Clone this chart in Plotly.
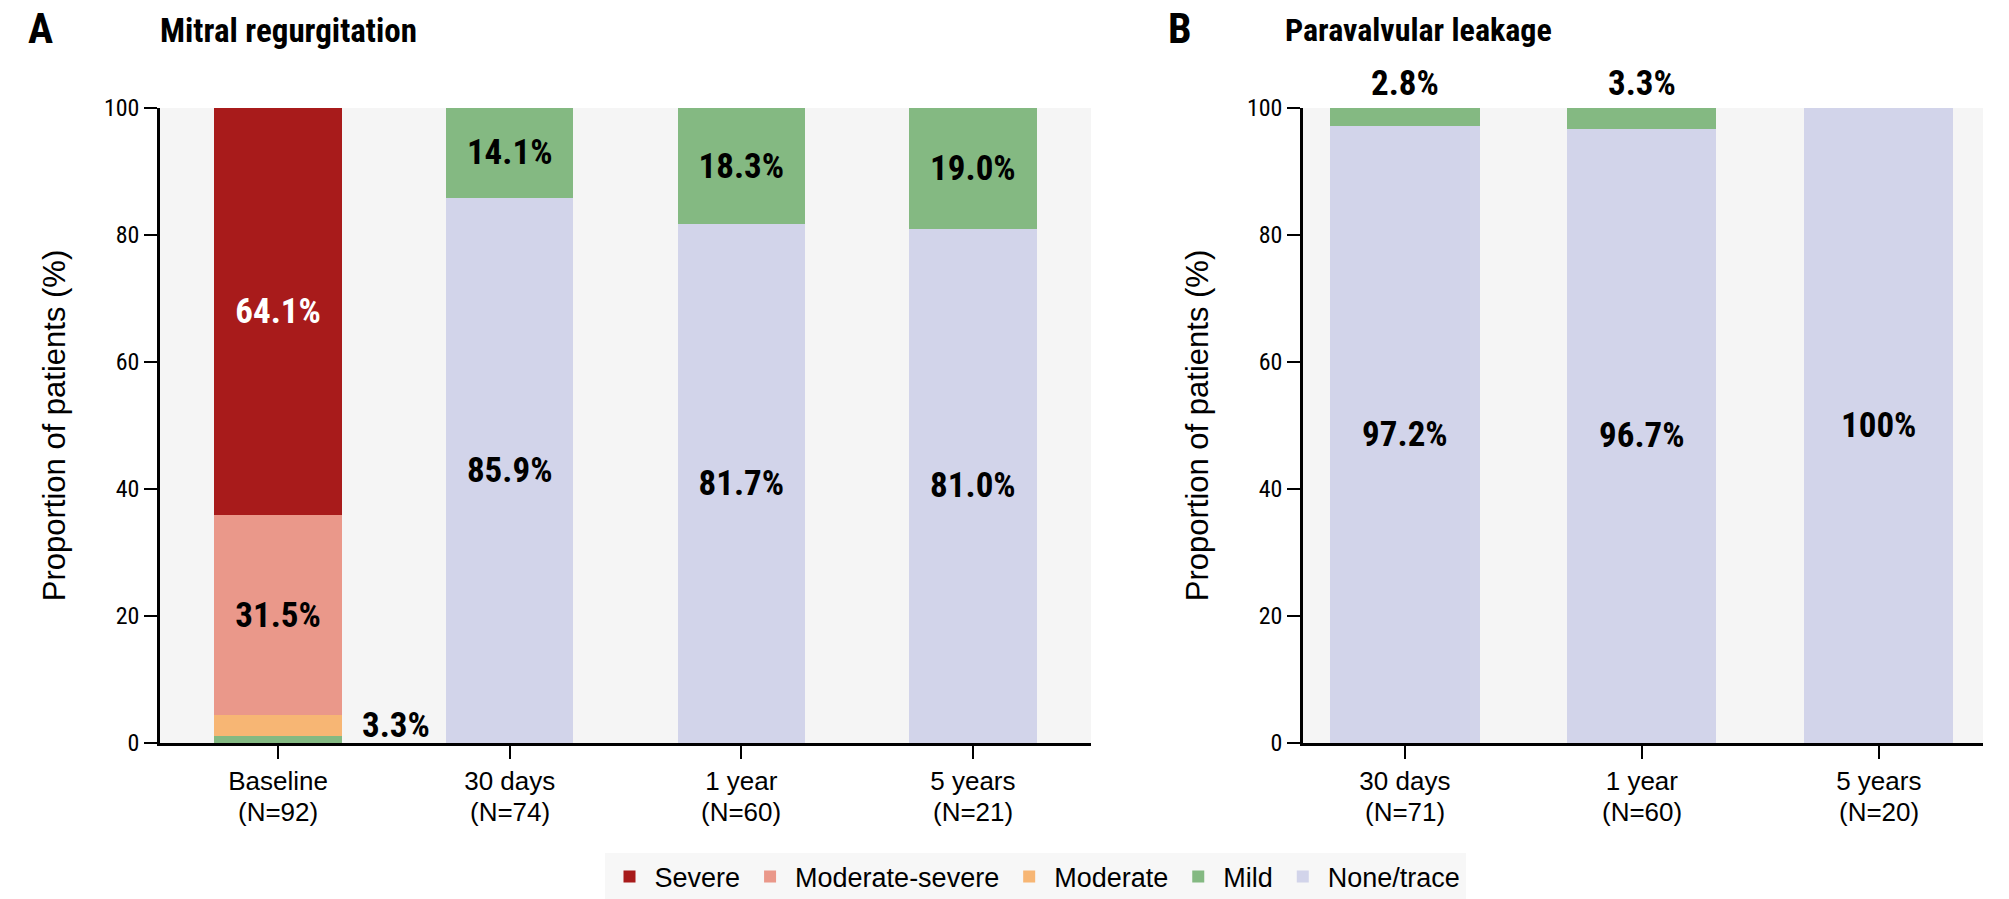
import plotly.graph_objects as go

# ---------------- data ----------------
timepoints_mr = ["Baseline", "30 days", "1 year", "5 years"]
n_mr = [92, 74, 60, 21]
mr_none = [0, 85.9, 81.7, 81.0]
mr_mild = [1.1, 14.1, 18.3, 19.0]
mr_moderate = [3.3, 0, 0, 0]
mr_modsev = [31.5, 0, 0, 0]
mr_severe = [64.1, 0, 0, 0]

timepoints_pvl = ["30 days", "1 year", "5 years"]
n_pvl = [71, 60, 20]
pvl_none = [97.2, 96.7, 100]
pvl_mild = [2.8, 3.3, 0]

grades = ["None/trace", "Mild", "Moderate", "Moderate-severe", "Severe"]
colors = {
    "Severe": "#a81b1b",
    "Moderate-severe": "#ea988a",
    "Moderate": "#f7b674",
    "Mild": "#84b982",
    "None/trace": "#d2d4ea",
}
label_colors = {"Severe": "white"}

W, H = 2009, 899
COND = "Roboto Condensed, Open Sans Condensed, sans-serif"
REG = "Liberation Sans, Arial, sans-serif"


def fmt(v):
    return "100%" if v == 100 else f"{v:.1f}%"


LABEL_FONT = dict(family=COND, size=35, color="black", weight="bold")
TICK_FONT = dict(family=REG, size=26, color="black")

fig = go.Figure()

mr_data = {
    "None/trace": mr_none,
    "Mild": mr_mild,
    "Moderate": mr_moderate,
    "Moderate-severe": mr_modsev,
    "Severe": mr_severe,
}
for g in grades:
    vals = mr_data[g]
    fig.add_trace(go.Bar(
        x=timepoints_mr, y=vals, name=g, legendgroup=g,
        marker=dict(color=colors[g], line=dict(width=0)),
        width=0.55,
        text=[fmt(v) if v >= 10 else "" for v in vals],
        textposition="inside", insidetextanchor="middle",
        textfont=dict(LABEL_FONT, color=label_colors.get(g, "black")),
        textangle=0,
        xaxis="x", yaxis="y",
        hoverinfo="skip",
    ))

pvl_data = {"None/trace": pvl_none, "Mild": pvl_mild}
for g in ["None/trace", "Mild"]:
    vals = pvl_data[g]
    fig.add_trace(go.Bar(
        x=timepoints_pvl, y=vals, name=g, legendgroup=g, showlegend=False,
        marker=dict(color=colors[g], line=dict(width=0)),
        width=0.63,
        text=[fmt(v) if v >= 10 else "" for v in vals],
        textposition="inside", insidetextanchor="middle",
        textfont=LABEL_FONT,
        textangle=0,
        xaxis="x2", yaxis="y2",
        hoverinfo="skip",
    ))

annotations = []
# small-segment labels
for i, v in enumerate(mr_moderate):
    if 0 < v < 10:
        annotations.append(dict(
            x=timepoints_mr[i], y=mr_mild[i] + v / 2, xref="x", yref="y",
            text=fmt(v), showarrow=False, xanchor="left", yanchor="middle",
            xshift=82, font=LABEL_FONT))
for i, v in enumerate(pvl_mild):
    if 0 < v < 10:
        annotations.append(dict(
            x=timepoints_pvl[i], y=pvl_none[i] + v, xref="x2", yref="y2",
            text=fmt(v), showarrow=False, xanchor="center", yanchor="bottom",
            yshift=2, font=LABEL_FONT))

# second line of the category labels (sample sizes)
for names, ns, xr, yr in [(timepoints_mr, n_mr, "x", "y"), (timepoints_pvl, n_pvl, "x2", "y2")]:
    for name, n in zip(names, ns):
        annotations.append(dict(
            x=name, y=0, xref=xr, yref=yr, text=f"(N={n})", showarrow=False,
            xanchor="center", yanchor="middle", yshift=-69, font=TICK_FONT))


def py(px):
    return (H - px) / H


TITLE_FONT = dict(family=COND, size=33, color="black", weight="bold")
LETTER_FONT = dict(family=COND, size=42, color="black", weight="bold")
annotations += [
    dict(x=26 / W, y=py(28), xref="paper", yref="paper", text="A",
         showarrow=False, xanchor="left", yanchor="middle", font=LETTER_FONT),
    dict(x=158 / W, y=py(30), xref="paper", yref="paper", text="Mitral regurgitation",
         showarrow=False, xanchor="left", yanchor="middle", font=TITLE_FONT),
    dict(x=1166 / W, y=py(28), xref="paper", yref="paper", text="B",
         showarrow=False, xanchor="left", yanchor="middle", font=LETTER_FONT),
    dict(x=1283 / W, y=py(30), xref="paper", yref="paper", text="Paravalvular leakage",
         showarrow=False, xanchor="left", yanchor="middle",
         font=dict(TITLE_FONT, size=32)),
]

y_dom = [(H - 743) / H, (H - 108) / H]

xcommon = dict(
    type="category", showline=True, linecolor="black", linewidth=2.5,
    ticks="outside", ticklen=13, tickwidth=1.5, tickcolor="black",
    showgrid=False, zeroline=False, automargin=False,
    tickfont=TICK_FONT,
    fixedrange=True,
)
ycommon = dict(
    range=[0, 100], tickvals=[0, 20, 40, 60, 80, 100],
    showline=True, linecolor="black", linewidth=2.5,
    ticks="outside", ticklen=13, tickwidth=1.5, tickcolor="black",
    showgrid=False, zeroline=False, automargin=False,
    tickfont=dict(family=COND, size=24, color="black"),
    title=dict(text="Proportion of patients (%)", standoff=30,
               font=dict(family=REG, size=31, color="black")),
    domain=y_dom, fixedrange=True,
)

fig.update_layout(
    width=W, height=H,
    margin=dict(l=0, r=0, t=0, b=0, autoexpand=False),
    paper_bgcolor="white", plot_bgcolor="#f5f5f5",
    barmode="stack",
    xaxis=dict(xcommon, domain=[160 / W, 1091 / W], range=[-0.51, 3.51], anchor="y"),
    yaxis=dict(ycommon, anchor="x"),
    xaxis2=dict(xcommon, domain=[1303 / W, 1983 / W], range=[-0.43, 2.44], anchor="y2"),
    yaxis2=dict(ycommon, anchor="x2"),
    showlegend=True,
    legend=dict(
        orientation="h", x=1035 / W, xanchor="center", y=py(877), yanchor="middle",
        bgcolor="#f7f7f7", traceorder="reversed", itemwidth=40,
        font=dict(family=REG, size=27, color="black"),
        itemclick=False, itemdoubleclick=False,
    ),
    annotations=annotations,
)

fig.write_html("out.html", config={"displayModeBar": False},
               post_script="document.body.style.margin='0px';")
